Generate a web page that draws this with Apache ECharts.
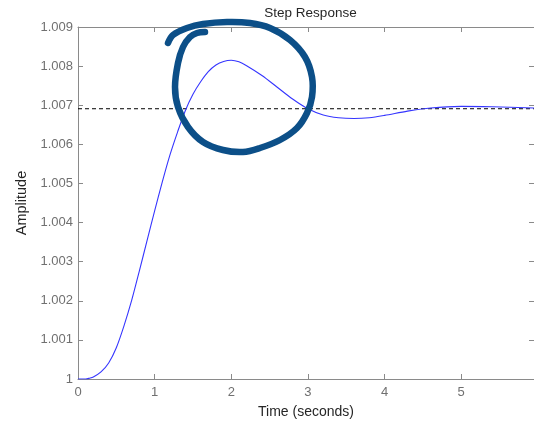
<!DOCTYPE html>
<html>
<head>
<meta charset="utf-8">
<script src="https://cdn.jsdelivr.net/npm/echarts@6/dist/echarts.min.js"></script>
<style>
  html, body { margin: 0; padding: 0; background: #fff; }
  #chart { width: 534px; height: 422px; }
</style>
</head>
<body>
<div id="chart"></div>
<script>
// Step response samples (time in seconds, amplitude)
const timeS = [0, 0.1, 0.15, 0.2, 0.3, 0.4, 0.5, 0.6, 0.7, 0.8, 0.9, 1.0, 1.1, 1.2, 1.3, 1.4, 1.5, 1.6, 1.7, 1.8, 1.9, 2.0, 2.1, 2.2, 2.4, 2.6, 2.8, 3.0, 3.2, 3.4, 3.6, 3.8, 4.0, 4.3, 4.6, 5.0, 5.4, 5.95];
const amplitude = [1.0, 1.0, 1.00002, 1.00005, 1.00018, 1.00041, 1.00080, 1.00136, 1.00201, 1.00276, 1.00353, 1.00430, 1.00504, 1.00573, 1.00632, 1.00686, 1.00728, 1.00760, 1.00786, 1.00803, 1.00812, 1.00815, 1.00811, 1.00801, 1.00776, 1.00746, 1.00716, 1.00691, 1.00675, 1.00668, 1.00666, 1.00668, 1.00674, 1.00685, 1.00693, 1.00697, 1.00696, 1.00693];
// Steady-state value (dashed reference line)
const finalValue = [1.00691];
const timeRange = [0, 5.95];
const ampRange = [1.0, 1.009];

// Freehand pen stroke circling the overshoot (screen pixels)
const penStroke = [[168,43],[173,35],[187,28],[203,24],[227,22],[250,23],[270,28],[290,40],[305,57],[312,77],[312,97],[307,113],[297,128],[280,140],[260,148],[243,152],[223,150],[203,142],[188,127],[178,107],[175,87],[178,63],[183,47],[190,37],[197,33],[205,32]];

const FONT = '"Liberation Sans", Arial, sans-serif';
const AXIS_GRAY = '#8a8a8a';
const LABEL_GRAY = '#707070';

const chart = echarts.init(document.getElementById('chart'), null, { renderer: 'canvas' });

const baseX = {
  type: 'value', min: timeRange[0], max: timeRange[1], interval: 1,
  axisLine: { show: true, onZero: false, lineStyle: { color: AXIS_GRAY, width: 1 } },
  axisTick: { show: true, inside: true, length: 5, lineStyle: { color: AXIS_GRAY } },
  splitLine: { show: false }
};
const baseY = {
  type: 'value', min: ampRange[0], max: ampRange[1], interval: 0.001,
  axisLine: { show: true, onZero: false, lineStyle: { color: AXIS_GRAY, width: 1 } },
  axisTick: { show: true, inside: true, length: 5, lineStyle: { color: AXIS_GRAY } },
  splitLine: { show: false }
};

chart.setOption({
  animation: false,
  backgroundColor: '#ffffff',
  title: {
    text: 'Step Response',
    left: 305.5, top: 1, textAlign: 'center',
    textStyle: { fontFamily: FONT, fontSize: 13.5, fontWeight: 'normal', color: '#262626' }
  },
  grid: { left: 78, top: 27, width: 456, height: 352, containLabel: false, outerBoundsMode: 'none' },
  xAxis: [
    Object.assign({}, baseX, {
      position: 'bottom',
      name: 'Time (seconds)', nameLocation: 'middle', nameGap: 26,
      nameTextStyle: { fontFamily: FONT, fontSize: 14, color: '#262626' },
      axisLabel: { show: true, showMaxLabel: false, margin: 7, fontFamily: FONT, fontSize: 13, color: LABEL_GRAY }
    }),
    Object.assign({}, baseX, { position: 'top', axisLabel: { show: false } })
  ],
  yAxis: [
    Object.assign({}, baseY, {
      position: 'left',
      name: 'Amplitude', nameLocation: 'middle', nameGap: 49, nameRotate: 90,
      nameTextStyle: { fontFamily: FONT, fontSize: 14.5, color: '#262626' },
      axisLabel: {
        show: true, margin: 5, fontFamily: FONT, fontSize: 13, color: LABEL_GRAY,
        formatter: v => (Math.abs(v - 1) < 1e-9 ? '1' : v.toFixed(3))
      }
    }),
    Object.assign({}, baseY, { position: 'right', axisLabel: { show: false } })
  ],
  series: [
    {
      name: 'Steady state', type: 'line', xAxisIndex: 0, yAxisIndex: 0,
      data: [[timeRange[0], finalValue[0]], [timeRange[1], finalValue[0]]],
      symbol: 'none', silent: true,
      lineStyle: { color: '#000000', width: 1, type: [4, 3] }
    },
    {
      name: 'Step response', type: 'line', xAxisIndex: 0, yAxisIndex: 0,
      data: timeS.map((t, i) => [t, amplitude[i]]),
      symbol: 'none', smooth: 0.3,
      lineStyle: { color: '#3535ff', width: 1.1 }
    }
  ],
  graphic: [
    {
      type: 'polyline', z: 100,
      shape: { points: penStroke, smooth: 0.35 },
      style: { fill: null, stroke: '#0c4f88', lineWidth: 6.5, lineCap: 'round', lineJoin: 'round' }
    }
  ]
});
</script>
</body>
</html>
